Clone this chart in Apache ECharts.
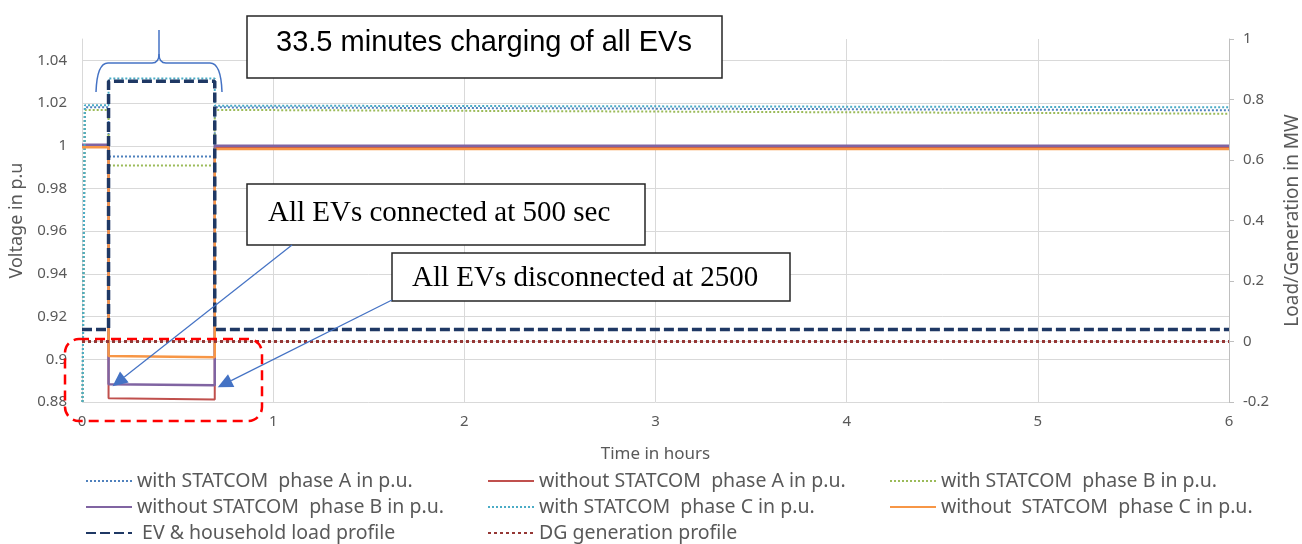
<!DOCTYPE html>
<html>
<head>
<meta charset="utf-8">
<title>EV charging voltage profile</title>
<script src="https://cdn.jsdelivr.net/npm/echarts@6/dist/echarts.min.js"></script>
</head>
<body style="margin:0">
<div id="main" style="width:1302px;height:544px;"></div>
<script type="text/javascript">
// time is in hours, EVs connected at 500 s and disconnected at 2500 s
var tOn = 500 / 3600;
var tOff = 2500 / 3600;

// with STATCOM (dotted lines)
var timeWith = [0, 0.015, tOn, tOn, tOff, tOff, 6];
var withA = [0.85, 1.0180, 1.0180, 0.9950, 0.9950, 1.0180, 1.0166];
var withB = [0.85, 1.0168, 1.0168, 0.9907, 0.9907, 1.0168, 1.0150];
var withC = [0.85, 1.0190, 1.0190, 1.0315, 1.0315, 1.0188, 1.0180];

// without STATCOM (solid lines)
var timeWithout = [0, tOn, tOn, tOff, tOff, 6];
var withoutA = [0.9995, 0.9995, 0.8818, 0.8812, 0.9992, 0.9992];
var withoutB = [1.0005, 1.0005, 0.8883, 0.8878, 1.0000, 1.0000];
var withoutC = [0.9993, 0.9993, 0.9015, 0.9010, 0.9985, 0.9985];

// load / generation in MW (right axis)
var loadMW = [0.04, 0.04, 0.86, 0.86, 0.04, 0.04];
var timeDG = [0, 6];
var dgMW = [0, 0];

var names = [
    'with STATCOM  phase A in p.u.',
    'without STATCOM  phase A in p.u.',
    'with STATCOM  phase B in p.u.',
    'without STATCOM  phase B in p.u.',
    'with STATCOM  phase C in p.u.',
    'without  STATCOM  phase C in p.u.',
    ' EV & household load profile',
    'DG generation profile'
];

function pairs(t, v) {
    return t.map(function (x, i) { return [x, v[i]]; });
}

var myChart = echarts.init(document.getElementById('main'));
var font = '"Noto Sans", sans-serif';
var grey = '#595959';

function lineSeries(name, t, v, color, type, width, yIdx) {
    return {
        name: name,
        type: 'line',
        yAxisIndex: yIdx || 0,
        symbol: 'none',
        animation: false,
        data: pairs(t, v),
        color: color,
        lineStyle: { color: color, type: type, width: width }
    };
}

var legendBase = {
    orient: 'vertical',
    top: 471,
    height: 80,
    padding: 0,
    itemWidth: 46,
    itemHeight: 14,
    itemGap: 6,
    itemStyle: { opacity: 0 },
    textStyle: { color: grey, fontSize: 19.5, lineHeight: 20, fontFamily: font }
};

myChart.setOption({
    backgroundColor: '#fff',
    textStyle: { fontFamily: font },
    grid: { left: 82, right: 73, top: 39, bottom: 142, outerBoundsMode: 'none' },
    legend: [
        Object.assign({ left: 85, data: [names[0], names[3], names[6]] }, legendBase),
        Object.assign({ left: 487, data: [names[1], names[4], names[7]] }, legendBase),
        Object.assign({ left: 889, data: [names[2], names[5]] }, legendBase)
    ],
    xAxis: {
        type: 'value',
        min: 0,
        max: 6,
        interval: 1,
        name: 'Time in hours',
        nameLocation: 'middle',
        nameGap: 44,
        nameTextStyle: { color: grey, fontSize: 17 },
        axisLine: { lineStyle: { color: '#D9D9D9' } },
        axisTick: { show: false },
        axisLabel: { color: grey, fontSize: 15, margin: 12 },
        splitLine: { lineStyle: { color: '#D9D9D9' } }
    },
    yAxis: [{
        type: 'value',
        min: 0.88,
        max: 1.05,
        interval: 0.02,
        name: 'Voltage in p.u',
        nameLocation: 'middle',
        nameRotate: 90,
        nameGap: 54,
        nameTextStyle: { color: grey, fontSize: 18 },
        axisLine: { show: true, lineStyle: { color: '#D9D9D9' } },
        axisTick: { show: false },
        axisLabel: { color: grey, fontSize: 15, margin: 15, showMaxLabel: false },
        splitLine: { showMaxLine: false, lineStyle: { color: '#D9D9D9' } }
    }, {
        type: 'value',
        position: 'right',
        min: -0.2,
        max: 1,
        interval: 0.2,
        name: 'Load/Generation in MW',
        nameLocation: 'middle',
        nameRotate: 90,
        nameGap: 54,
        nameTextStyle: { color: grey, fontSize: 19 },
        axisLine: { show: true, lineStyle: { color: '#BFBFBF' } },
        axisTick: { show: true, length: 5, lineStyle: { color: '#BFBFBF' } },
        axisLabel: { color: grey, fontSize: 15, margin: 14 },
        splitLine: { show: false }
    }],
    series: [
        lineSeries(names[0], timeWith, withA, '#4F81BD', [2, 2], 2),
        lineSeries(names[1], timeWithout, withoutA, '#C0504D', 'solid', 2),
        lineSeries(names[2], timeWith, withB, '#9BBB59', [2, 2], 2),
        lineSeries(names[3], timeWithout, withoutB, '#8064A2', 'solid', 2.5),
        lineSeries(names[4], timeWith, withC, '#4BACC6', [2, 2], 2),
        lineSeries(names[5], timeWithout, withoutC, '#F79646', 'solid', 2.5),
        lineSeries(names[6], timeWithout, loadMW, '#1F3864', [10, 4], 3.5, 1),
        lineSeries(names[7], timeDG, dgMW, '#953735', [3, 3], 3, 1)
    ]
});

// annotations: text boxes, brace, arrows and the dashed highlight box
var blue = '#4472C4';
function arrow(x0, y0, x1, y1) {
    var dx = x1 - x0, dy = y1 - y0;
    var len = Math.sqrt(dx * dx + dy * dy);
    var ux = dx / len, uy = dy / len;
    var hl = 15, hw = 7;
    var bx = x1 - ux * hl, by = y1 - uy * hl;
    return [{
        type: 'line', z: 100,
        shape: { x1: x0, y1: y0, x2: bx, y2: by },
        style: { stroke: blue, lineWidth: 1.2 }
    }, {
        type: 'polygon', z: 100,
        shape: { points: [[x1, y1], [bx - uy * hw, by + ux * hw], [bx + uy * hw, by - ux * hw]] },
        style: { fill: blue }
    }];
}

var tip1 = myChart.convertToPixel({ xAxisIndex: 0, yAxisIndex: 0 }, [tOn, withoutB[2]]);
var tip2 = myChart.convertToPixel({ xAxisIndex: 0, yAxisIndex: 0 }, [tOff, withoutB[3]]);

var braceStyle = { stroke: blue, lineWidth: 1.5, fill: 'none' };
var graphics = [
    { type: 'bezierCurve', z: 100, shape: { x1: 96, y1: 92, cpx1: 97, cpy1: 63, x2: 108, y2: 63 }, style: braceStyle },
    { type: 'line', z: 100, shape: { x1: 108, y1: 63, x2: 152, y2: 63 }, style: braceStyle },
    { type: 'bezierCurve', z: 100, shape: { x1: 152, y1: 63, cpx1: 159, cpy1: 63, x2: 159, y2: 54 }, style: braceStyle },
    { type: 'line', z: 100, shape: { x1: 159, y1: 54, x2: 159, y2: 30 }, style: braceStyle },
    { type: 'bezierCurve', z: 100, shape: { x1: 166, y1: 63, cpx1: 159, cpy1: 63, x2: 159, y2: 54 }, style: braceStyle },
    { type: 'line', z: 100, shape: { x1: 166, y1: 63, x2: 210, y2: 63 }, style: braceStyle },
    { type: 'bezierCurve', z: 100, shape: { x1: 210, y1: 63, cpx1: 221, cpy1: 63, x2: 222, y2: 92 }, style: braceStyle },

    { type: 'rect', z: 100, shape: { x: 247, y: 16, width: 475, height: 62 },
      style: { fill: '#fff', stroke: '#262626', lineWidth: 1.5 } },
    { type: 'text', z: 101, x: 484, y: 43,
      style: { text: '33.5 minutes charging of all EVs', font: '29px "Liberation Sans", Arial, sans-serif',
               fill: '#000', textAlign: 'center', textVerticalAlign: 'middle' } },

    { type: 'rect', z: 100, shape: { x: 247, y: 184, width: 398, height: 61 },
      style: { fill: '#fff', stroke: '#262626', lineWidth: 1.5 } },
    { type: 'text', z: 101, x: 268, y: 213,
      style: { text: 'All EVs connected at 500 sec', font: '29px "Liberation Serif", "Times New Roman", serif',
               fill: '#000', textAlign: 'left', textVerticalAlign: 'middle' } },

    { type: 'rect', z: 100, shape: { x: 392, y: 253, width: 398, height: 48 },
      style: { fill: '#fff', stroke: '#262626', lineWidth: 1.5 } },
    { type: 'text', z: 101, x: 412, y: 278,
      style: { text: 'All EVs disconnected at 2500', font: '29px "Liberation Serif", "Times New Roman", serif',
               fill: '#000', textAlign: 'left', textVerticalAlign: 'middle' } },

    { type: 'rect', z: 100, shape: { x: 65, y: 339, width: 197, height: 82, r: 14 },
      style: { fill: 'none', stroke: '#FF0000', lineWidth: 2.5, lineDash: [10, 6] } }
];
graphics = graphics.concat(arrow(292, 245, tip1[0] + 4, tip1[1] + 2));
graphics = graphics.concat(arrow(392, 300, tip2[0] + 3, tip2[1] + 2));

myChart.setOption({ graphic: graphics });
</script>
</body>
</html>
